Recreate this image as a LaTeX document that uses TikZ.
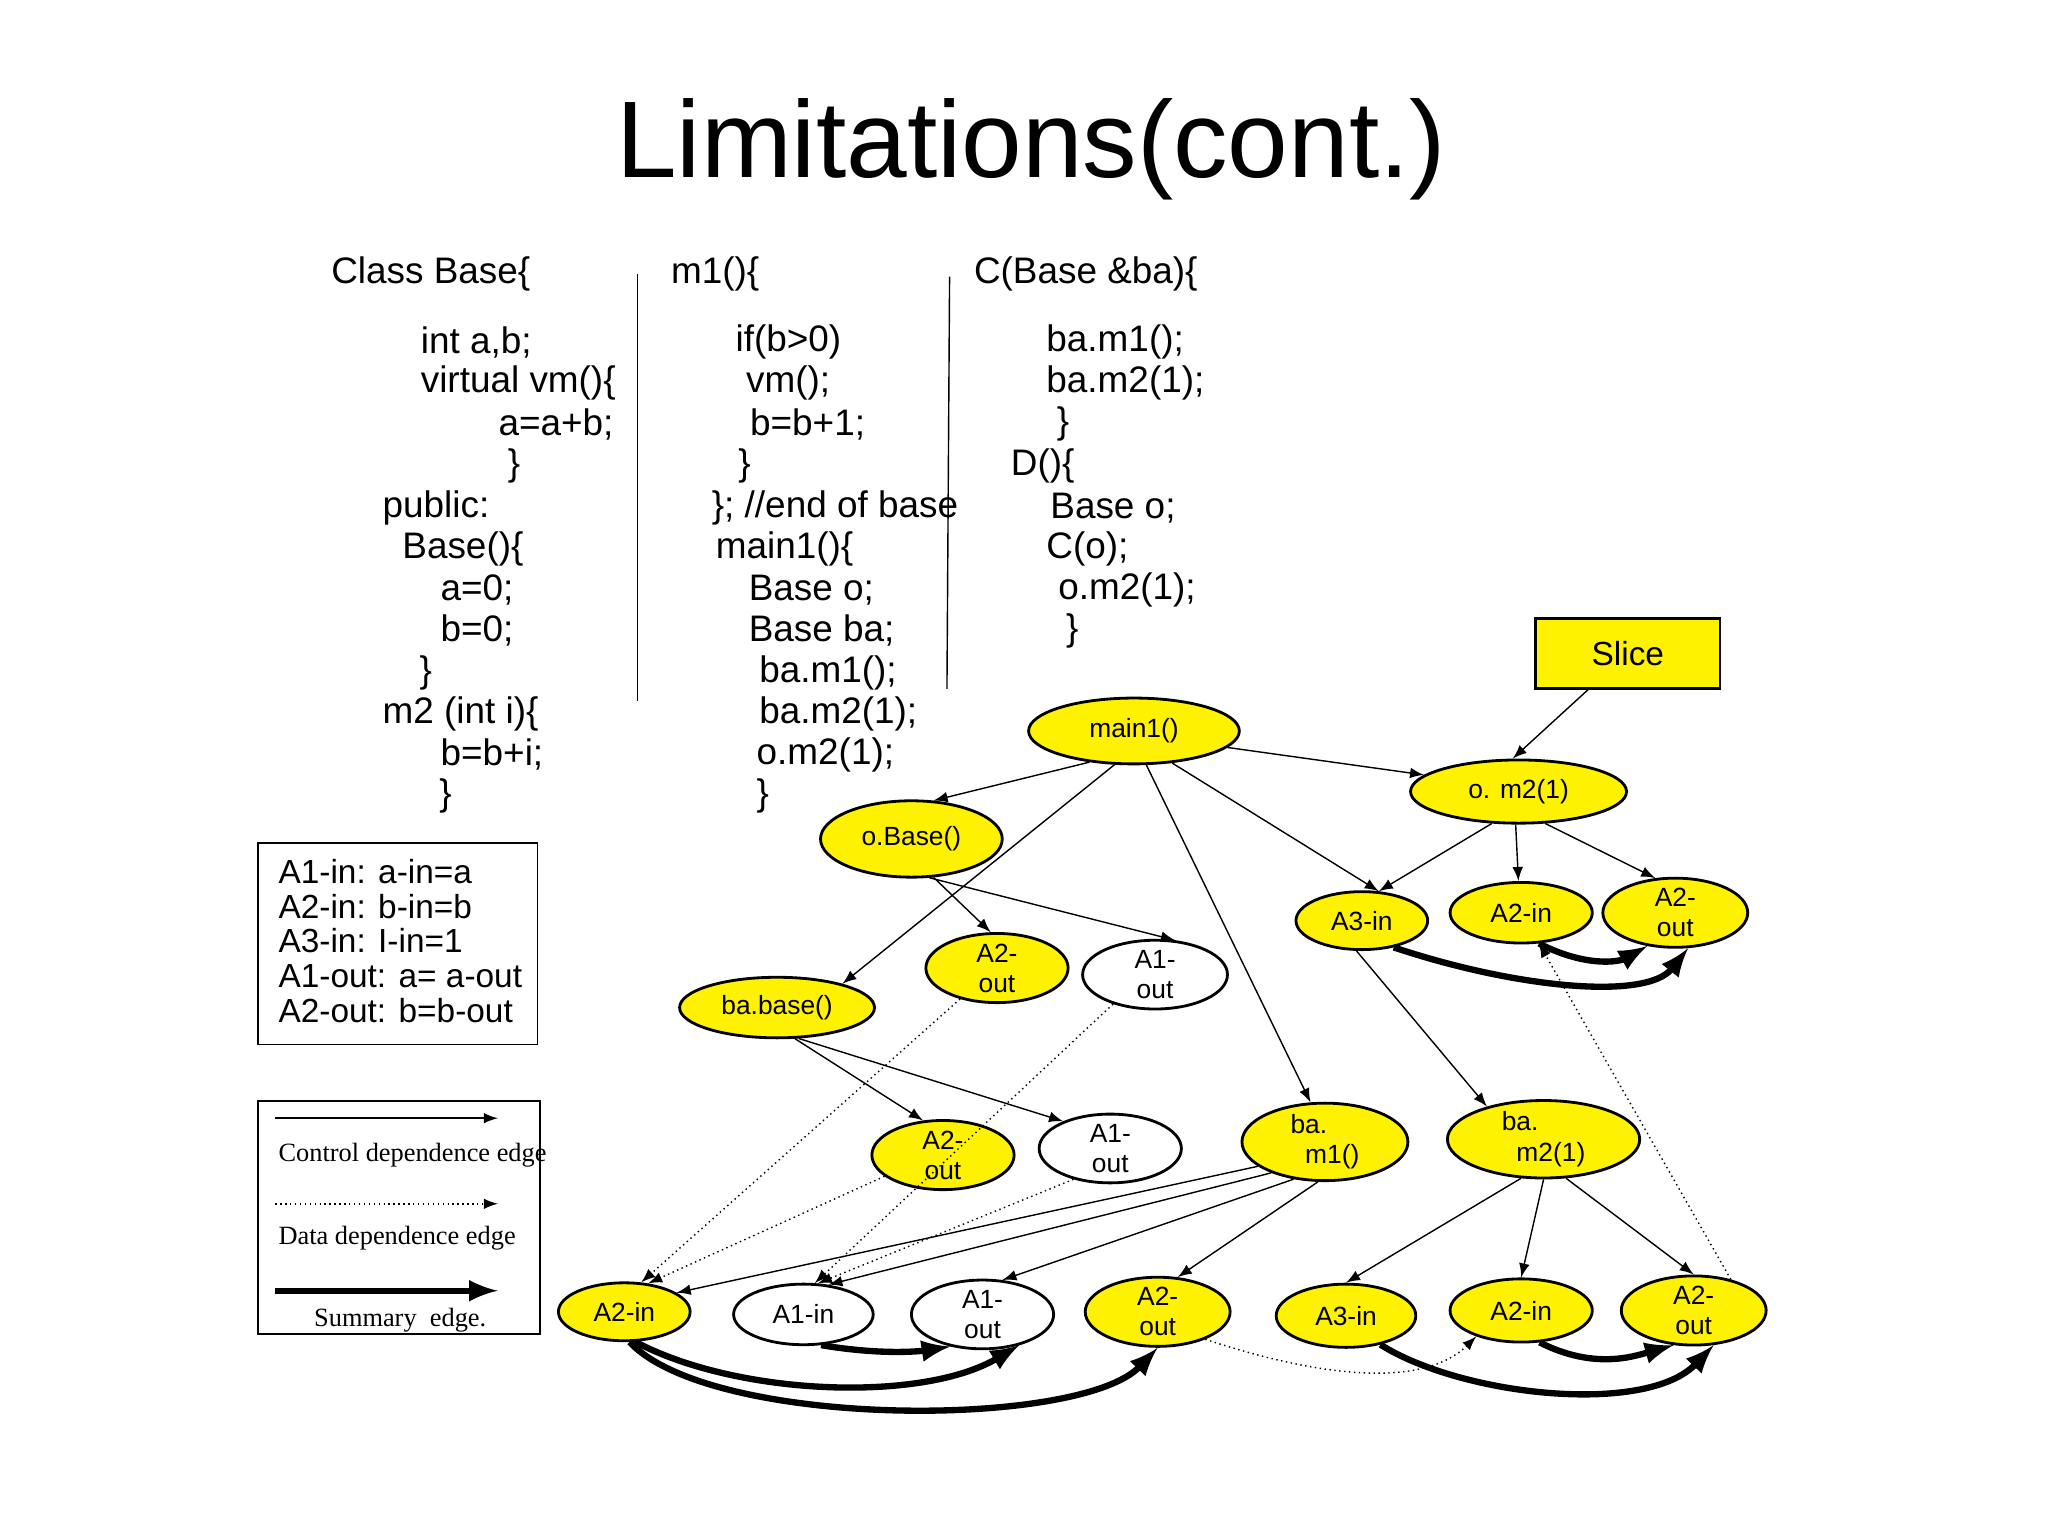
\documentclass[tikz,border=0pt]{standalone}
\usepackage{fontspec}
\setmainfont{Liberation Sans}
\newfontfamily\legendfont{Liberation Serif}
\usetikzlibrary{shapes.geometric}

\begin{document}
\begin{tikzpicture}[>=latex,x=0.01317cm,y=-0.01317cm,
  code/.style={anchor=west,inner sep=0pt,font=\fontsize{10.5}{12}\selectfont},
  ell/.style={ellipse,draw,thick,inner sep=0pt,align=center,font=\fontsize{7.5}{8.6}\selectfont},
  yel/.style={ell,fill=yellow},
  wht/.style={ell,fill=white},
  sz/.style 2 args={minimum width=#1*0.01317cm,minimum height=#2*0.01317cm},
  ctrl/.style={->},
  data/.style={->,densely dotted},
  summ/.style={->,line width=1.8pt}]

\useasboundingbox (0,0) rectangle (1555,1166);

% Title
\node (title) at (783,113) {\fontsize{31}{36}\selectfont Limitations(cont.)};

% Source code, three columns
\foreach \x/\y/\txt in {251/208/{Class Base\{}, 319/260/{int a,b;}, 319/291/{virtual vm()\{},
  378/322/{a=a+b;}, 385/354/\}, 290/386/{public:}, 305/417/{Base()\{}, 334/448/{a=0;},
  334/479/{b=0;}, 318/511/\}, 290/542/{m2 (int i)\{}, 334/573/{b=b+i;}, 333/604/\}} {
  \node [code] at (\x,\y) {\txt};
}
\foreach \x/\y/\txt in {509/208/{m1()\{}, 558/260/{if(b>0)}, 566/291/{vm();}, 569/322/{b=b+1;},
  560/354/\}, 540/386/{\}; //end of base}, 543/417/{main1()\{}, 568/448/{Base o;},
  568/479/{Base ba;}, 576/511/{ba.m1();}, 576/542/{ba.m2(1);}, 574/573/{o.m2(1);}, 574/604/\}} {
  \node [code] at (\x,\y) {\txt};
}
\foreach \x/\y/\txt in {739/208/{C(Base \&ba)\{}, 794/260/{ba.m1();}, 794/291/{ba.m2(1);},
  802/322/\}, 767/354/{D()\{}, 797/386/{Base o;}, 794/417/{C(o);}, 803/448/{o.m2(1);}, 809/479/\}} {
  \node [code] at (\x,\y) {\txt};
}
\draw (484,208) -- (484,532);
\draw (721,210) -- (719,523);

% Legends
\draw (196,640) rectangle (408,793);
\foreach \y/\txt in {662/{A1-in: a-in=a}, 688/{A2-in: b-in=b}, 714/{A3-in: I-in=1},
  741/{A1-out: a= a-out}, 767/{A2-out: b=b-out}} {
  \node [code,font=\fontsize{9.5}{11}\selectfont] at (211,\y) {\txt};
}
\draw (196,836) rectangle (410,1013);
\coordinate (c1) at (209,849); \coordinate (c2) at (378,849);
\coordinate (d1) at (209,914); \coordinate (d2) at (378,914);
\coordinate (s1) at (209,980); \coordinate (s2) at (378,980);
\draw [ctrl] (c1) -- (c2);
\draw [data] (d1) -- (d2);
\draw [summ] (s1) -- (s2);
\node [code,font=\legendfont\fontsize{7.5}{9}\selectfont] at (211,877) {Control dependence edge};
\node [code,font=\legendfont\fontsize{7.5}{9}\selectfont] at (211,940) {Data dependence edge};
\node [code,font=\legendfont\fontsize{7.5}{9}\selectfont] at (238,1002) {Summary\ \ edge.};

% Graph nodes
\node [draw,thick,fill=yellow,minimum width=140*0.01317cm,minimum height=53*0.01317cm,
  font=\fontsize{9.5}{11}\selectfont] (slice) at (1236,496) {Slice};
\node [yel,sz={160}{50}] (main) at (861,555) {main1()};
\node [yel,sz={164}{48}] (om2) at (1153,601) {o. m2(1)};
\node [yel,sz={138}{58}] (obase) at (692,637) {o.Base()};
\node [yel,sz={100}{44}] (tA3in) at (1034,699) {A3-in};
\node [yel,sz={108}{46}] (tA2in) at (1155,693) {A2-in};
\node [yel,sz={110}{46}] (tA2out) at (1272,693) {A2-\\out};
\node [yel,sz={108}{48}] (oA2out) at (757,735) {A2-\\out};
\node [wht,sz={110}{48}] (oA1out) at (877,740) {A1-\\out};
\node [yel,sz={148}{46}] (babase) at (590,765) {ba.base()};
\node [yel,sz={108}{48}] (bA2out) at (716,877) {A2-\\out};
\node [wht,sz={108}{48}] (bA1out) at (843,872) {A1-\\out};
\node [yel,sz={126}{46},align=left] (bam1) at (1006,867) {ba.\\\ \ m1()};
\node [yel,sz={146}{46},align=left] (bam2) at (1172,865) {ba.\\\ \ m2(1)};
\node [yel,sz={100}{44}] (lA2in) at (474,996) {A2-in};
\node [wht,sz={106}{46}] (lA1in) at (610,998) {A1-in};
\node [wht,sz={108}{48}] (lA1out) at (746,998) {A1-\\out};
\node [yel,sz={110}{48}] (lA2out) at (879,996) {A2-\\out};
\node [yel,sz={106}{48}] (rA3in) at (1022,999) {A3-in};
\node [yel,sz={108}{48}] (rA2in) at (1155,995) {A2-in};
\node [yel,sz={110}{48}] (rA2out) at (1286,995) {A2-\\out};

% Control dependence edges
\draw [ctrl] (main.215) -- (obase.60);
\draw [ctrl] (main.240) -- (babase.20);
\draw [ctrl] (main.290) -- (bam1.110);
\draw [ctrl] (main.320) -- (tA3in.60);
\draw [ctrl] (main.-10) -- (om2.170);
\draw [ctrl] (slice) -- (om2.100);
\draw [ctrl] (om2.230) -- (tA3in.60);
\draw [ctrl] (om2.265) -- (tA2in.95);
\draw [ctrl] (om2.310) -- (tA2out.120);
\draw [ctrl] (tA3in.260) -- (bam2.150);
\draw [ctrl] (obase.300) -- (oA2out.100);
\draw [ctrl] (obase.295) -- (oA1out.60);
\draw [ctrl] (babase.300) -- (bA2out.120);
\draw [ctrl] (babase.305) -- (bA1out.150);
\draw [ctrl] (bam1.200) -- (lA2in.20);
\draw [ctrl] (bam1.210) -- (lA1in.50);
\draw [ctrl] (bam1.230) -- (lA1out.60);
\draw [ctrl] (bam1.260) -- (lA2out.60);
\draw [ctrl] (bam2.240) -- (rA3in.90);
\draw [ctrl] (bam2.270) -- (rA2in.90);
\draw [ctrl] (bam2.300) -- (rA2out.90);

% Data dependence edges
\draw [data] (oA2out.220) -- (lA2in.60);
\draw [data] (oA1out.215) -- (lA1in.70);
\draw [data] (bA2out.200) -- (lA2in.50);
\draw [data] (bA1out.220) -- (lA1in.65);
\draw [data] (rA2out.40) -- (tA2in.300);
\draw [data] (lA2out.330) .. controls (1000,1045) and (1080,1055) .. (rA2in.210);

% Summary edges
\draw [summ] (lA1in.300) .. controls (675,1030) and (705,1025) .. (lA1out.225);
\draw [summ] (lA2in.290) .. controls (560,1060) and (700,1065) .. (lA1out.320);
\draw [summ] (lA2in.280) .. controls (540,1085) and (820,1085) .. (lA2out.270);
\draw [summ] (rA3in.320) .. controls (1110,1060) and (1250,1075) .. (rA2out.300);
\draw [summ] (rA2in.300) .. controls (1210,1040) and (1240,1030) .. (rA2out.240);
\draw [summ] (tA3in.320) .. controls (1150,750) and (1250,760) .. (tA2out.290);
\draw [summ] (tA2in.300) .. controls (1205,735) and (1230,730) .. (tA2out.230);

\end{tikzpicture}
\end{document}
